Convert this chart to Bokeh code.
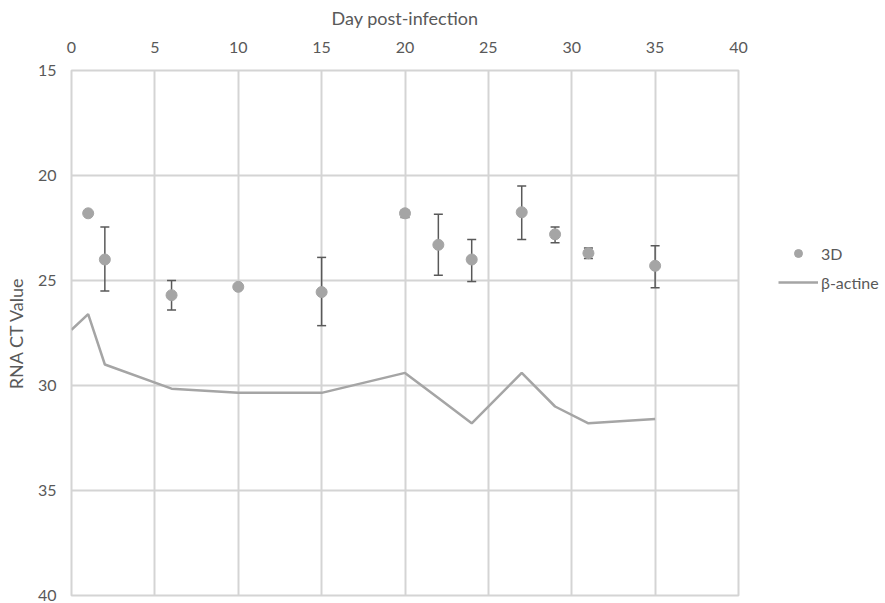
from bokeh.plotting import figure
from bokeh.models import Range1d, FixedTicker, Legend, LegendItem
from bokeh.layouts import row
from bokeh.embed import file_html
from bokeh.resources import INLINE
import numpy as np

# 3D series (points with error bars)
days_3d = [1, 2, 6, 10, 15, 20, 22, 24, 27, 29, 31, 35]
ct_3d = [21.8, 24.0, 25.7, 25.3, 25.55, 21.8, 23.3, 24.0, 21.75, 22.8, 23.7, 24.3]
err_low = [np.nan, 22.45, 25.0, np.nan, 23.9, 21.65, 21.85, 23.05, 20.5, 22.45, 23.45, 23.35]
err_high = [np.nan, 25.5, 26.4, np.nan, 27.15, 22.0, 24.75, 25.05, 23.05, 23.2, 23.95, 25.35]

# beta-actine line
days_actin = [0, 1, 2, 6, 10, 15, 20, 22, 24, 27, 29, 31, 35]
ct_actin = [27.35, 26.6, 29.0, 30.15, 30.35, 30.35, 29.4, 30.6, 31.8, 29.4, 31.0, 31.8, 31.6]

x_ticks = [0, 5, 10, 15, 20, 25, 30, 35, 40]
y_ticks = [15, 20, 25, 30, 35, 40]

FONT = "Lato"
TXT = "#595959"
GRID = "#d4d4d4"
GRAY = "#a5a5a5"
ERR = "#595959"

p = figure(width=760, height=603, output_backend="svg", toolbar_location=None,
           x_range=Range1d(0, 40), y_range=Range1d(40, 15),
           x_axis_location="above",
           min_border_left=71, min_border_top=70, min_border_right=22, min_border_bottom=8)
p.outline_line_color = GRID
p.outline_line_width = 2

for ax in (p.xaxis[0], p.yaxis[0]):
    ax.axis_line_color = None
    ax.major_tick_line_color = None
    ax.minor_tick_line_color = None
    ax.major_tick_out = 0
    ax.major_tick_in = 0
    ax.minor_tick_out = 0
    ax.major_label_text_font = FONT
    ax.major_label_text_font_size = "16px"
    ax.major_label_text_color = TXT
    ax.axis_label_text_font = FONT
    ax.axis_label_text_font_size = "18px"
    ax.axis_label_text_font_style = "normal"
    ax.axis_label_text_color = TXT

p.xaxis[0].ticker = FixedTicker(ticks=x_ticks)
p.yaxis[0].ticker = FixedTicker(ticks=y_ticks)
p.xaxis[0].axis_label = "Day post-infection"
p.yaxis[0].axis_label = "RNA CT Value"
p.xaxis[0].major_label_standoff = 18
p.xaxis[0].axis_label_standoff = 10
p.yaxis[0].major_label_standoff = 15
p.yaxis[0].axis_label_standoff = 8

p.xgrid[0].ticker = FixedTicker(ticks=x_ticks)
p.ygrid[0].ticker = FixedTicker(ticks=y_ticks)
for g in (p.xgrid[0], p.ygrid[0]):
    g.grid_line_color = GRID
    g.grid_line_width = 2

p.line(days_actin, ct_actin, line_color=GRAY, line_width=2.5)

p.segment(x0=days_3d, y0=err_low, x1=days_3d, y1=err_high, line_color=ERR, line_width=1.5)
p.scatter(days_3d, err_low, marker="dash", size=9, line_color=ERR, line_width=1.5)
p.scatter(days_3d, err_high, marker="dash", size=9, line_color=ERR, line_width=1.5)

p.scatter(days_3d, ct_3d, size=11, fill_color=GRAY, line_color=GRAY)

# legend panel at the right (same series, ranges chosen so only the legend shows)
lp = figure(width=125, height=603, output_backend="svg", toolbar_location=None,
            x_axis_type=None, y_axis_type=None,
            x_range=Range1d(-20, -10), y_range=Range1d(0, 1), min_border=0)
lp.outline_line_color = None
lp.grid.visible = False
leg_pts = lp.scatter(days_3d, ct_3d, size=11, fill_color=GRAY, line_color=GRAY)
leg_line = lp.line(days_actin, ct_actin, line_color=GRAY, line_width=2.5)

legend = Legend(items=[LegendItem(label="3D", renderers=[leg_pts]),
                       LegendItem(label="β-actine", renderers=[leg_line])],
                location=(18, 303), orientation="vertical",
                border_line_color=None, background_fill_color=None,
                padding=0, margin=0, spacing=9,
                glyph_width=40, glyph_height=20, label_height=20,
                label_standoff=3,
                label_text_font=FONT, label_text_font_size="16px", label_text_color=TXT)
lp.add_layout(legend, "center")

layout = row(p, lp)
open("out.html", "w").write(file_html(layout, INLINE))
